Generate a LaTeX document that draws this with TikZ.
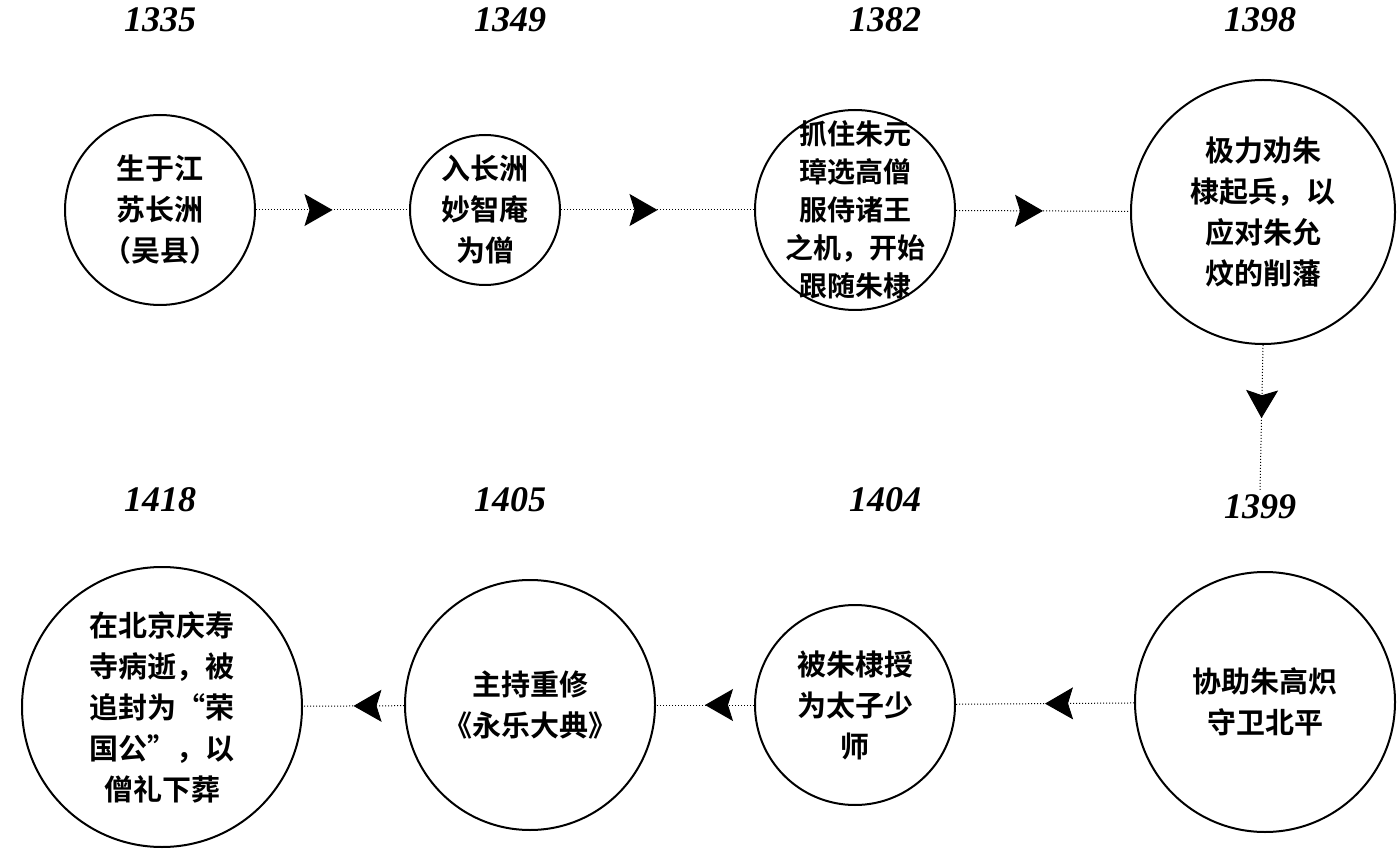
\documentclass[tikz,border=0pt]{standalone}
\usepackage{fontspec}
\setmainfont{Liberation Serif}
\newfontfamily\cjk{Noto Sans CJK SC}[BoldFont={Noto Sans CJK SC Bold}]
\usetikzlibrary{arrows.meta,decorations.markings}
\begin{document}
\begin{tikzpicture}[x=1pt,y=-1pt,
  ev/.style={circle,draw,line width=2pt,align=center,font=\cjk\bfseries\fontsize{29}{41}\selectfont,inner sep=0pt},
  yr/.style={font=\bfseries\itshape\fontsize{36}{36}\selectfont},
  link/.style={dotted,line width=1pt,postaction={decorate},decoration={markings,mark=at position 0.5 with {\arrow{Stealth[length=28pt,width=32pt,inset=5pt]}}}}]
\useasboundingbox (0,0) rectangle (1400,866);
\node[ev,minimum size=190pt] (c1) at (160,210) {生于江\\苏长洲\\（吴县）};
\node[ev,minimum size=150pt,inner sep=-3pt] (c2) at (485,210) {入长洲\\妙智庵\\为僧};
\node[ev,minimum size=200pt,inner sep=-12pt,font=\cjk\bfseries\fontsize{28}{38}\selectfont] (c3) at (855,210) {抓住朱元\\璋选高僧\\服侍诸王\\之机，开始\\跟随朱棣};
\node[ev,minimum size=264pt] (c4) at (1263,212) {极力劝朱\\棣起兵，以\\应对朱允\\炆的削藩};
\node[ev,minimum size=260pt] (c5) at (1265,702) {协助朱高炽\\守卫北平};
\node[ev,minimum size=200pt] (c6) at (855,705) {被朱棣授\\为太子少\\师};
\node[ev,minimum size=250pt] (c7) at (530,705) {主持重修\\《永乐大典》};
\node[ev,minimum size=280pt] (c8) at (162,707) {在北京庆寿\\寺病逝，被\\追封为“荣\\国公”，以\\僧礼下葬};
\node[yr] (y1) at (160,20) {1335};
\node[yr] (y2) at (510,20) {1349};
\node[yr] (y3) at (885,20) {1382};
\node[yr] (y4) at (1260,20) {1398};
\node[yr] (y5) at (1260,507) {1399};
\node[yr] (y6) at (885,500) {1404};
\node[yr] (y7) at (510,500) {1405};
\node[yr] (y8) at (160,500) {1418};
\draw[link] (c1) -- (c2);
\draw[link] (c2) -- (c3);
\draw[link] (c3) -- (c4);
\draw[link] (c4.south) -- (y5.north);
\draw[link] (c5) -- (c6);
\draw[link] (c6) -- (c7);
\draw[link] (c7) -- (c8);
\end{tikzpicture}
\end{document}
